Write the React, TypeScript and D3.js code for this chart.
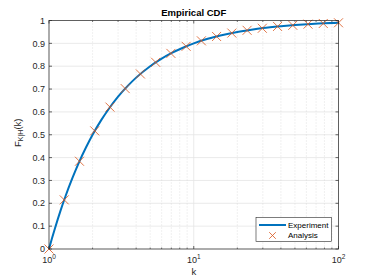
import React from "react";
import * as d3 from "d3";

// Analysis markers (k on log axis, CDF value)
const analysisK = [1, 1.274, 1.624, 2.069, 2.637, 3.36, 4.281, 5.456, 6.952, 8.859, 11.29, 14.38, 18.33, 23.36, 29.76, 37.93, 48.33, 61.58, 78.48, 100];
const analysisF = [0, 0.215, 0.384, 0.517, 0.621, 0.702, 0.766, 0.817, 0.856, 0.887, 0.911, 0.93, 0.945, 0.957, 0.966, 0.974, 0.979, 0.984, 0.987, 0.99];

// Experiment curve
const expK = [1, 1.05, 1.1, 1.2, 1.3, 1.45, 1.6, 1.8, 2, 2.3, 2.6, 3, 3.5, 4, 5, 6, 7, 8.5, 10, 12, 15, 20, 25, 30, 40, 50, 65, 80, 100];
const expF = [0, 0.048, 0.091, 0.167, 0.231, 0.31, 0.375, 0.444, 0.5, 0.565, 0.615, 0.667, 0.714, 0.75, 0.8, 0.833, 0.857, 0.882, 0.9, 0.917, 0.933, 0.95, 0.96, 0.967, 0.975, 0.98, 0.985, 0.988, 0.99];

const yTicks = [0, 0.1, 0.2, 0.3, 0.4, 0.5, 0.6, 0.7, 0.8, 0.9, 1];
const yTickLabels = ["0", "0.1", "0.2", "0.3", "0.4", "0.5", "0.6", "0.7", "0.8", "0.9", "1"];
const xMajor = [1, 10, 100];
const xMajorExp = ["0", "1", "2"];
const xMinor = [2, 3, 4, 5, 6, 7, 8, 9, 20, 30, 40, 50, 60, 70, 80, 90];

const W = 374;
const H = 280;
const m = { left: 49, right: 338.5, top: 20.5, bottom: 249 };
const font = "'Liberation Sans', Arial, Helvetica, sans-serif";
const axisCol = "#262626";
const blue = "#0072BD";
const orange = "#D95319";

const App: React.FC = () => {
  const x = d3.scaleLog().domain([1, 100]).range([m.left, m.right]);
  const y = d3.scaleLinear().domain([0, 1]).range([m.bottom, m.top]);

  const line = d3
    .line<number>()
    .x((_, i) => x(expK[i]))
    .y((d) => y(d))
    .curve(d3.curveMonotoneX);

  const cross = (cx: number, cy: number, i: number, s = 4.5) => (
    <path
      key={i}
      d={`M${cx - s},${cy - s}L${cx + s},${cy + s}M${cx - s},${cy + s}L${cx + s},${cy - s}`}
      stroke={orange}
      strokeWidth={0.8}
      fill="none"
    />
  );

  return (
    <svg
      width={W}
      height={H}
      style={{ position: "absolute", left: 0, top: 0, background: "#fff" }}
      fontFamily={font}
    >
      <rect x={0} y={0} width={W} height={H} fill="#fff" />
      <rect x={m.left} y={m.top} width={m.right - m.left} height={m.bottom - m.top} fill="#fff" />

      {/* grid */}
      {yTicks.map((t) => (
        <line key={"gy" + t} x1={m.left} x2={m.right} y1={y(t)} y2={y(t)} stroke="#e5e5e5" strokeWidth={0.8} />
      ))}
      {xMinor.map((t) => (
        <line key={"gmx" + t} x1={x(t)} x2={x(t)} y1={m.top} y2={m.bottom} stroke="#d0d0d0" strokeWidth={0.6} strokeDasharray="1,2" />
      ))}
      {xMajor.map((t) => (
        <line key={"gx" + t} x1={x(t)} x2={x(t)} y1={m.top} y2={m.bottom} stroke="#e5e5e5" strokeWidth={0.8} />
      ))}

      {/* data */}
      <path d={line(expF) || ""} fill="none" stroke={blue} strokeWidth={2} />
      {analysisF.map((f, i) => cross(x(analysisK[i]), y(f), i))}

      {/* box and ticks */}
      <rect x={m.left} y={m.top} width={m.right - m.left} height={m.bottom - m.top} fill="none" stroke={axisCol} strokeWidth={0.7} />
      {yTicks.map((t) => (
        <g key={"ty" + t}>
          <line x1={m.left} x2={m.left + 3} y1={y(t)} y2={y(t)} stroke={axisCol} strokeWidth={0.7} />
          <line x1={m.right} x2={m.right - 3} y1={y(t)} y2={y(t)} stroke={axisCol} strokeWidth={0.7} />
        </g>
      ))}
      {xMajor.map((t) => (
        <g key={"tx" + t}>
          <line x1={x(t)} x2={x(t)} y1={m.bottom} y2={m.bottom - 3} stroke={axisCol} strokeWidth={0.7} />
          <line x1={x(t)} x2={x(t)} y1={m.top} y2={m.top + 3} stroke={axisCol} strokeWidth={0.7} />
        </g>
      ))}
      {xMinor.map((t) => (
        <g key={"tmx" + t}>
          <line x1={x(t)} x2={x(t)} y1={m.bottom} y2={m.bottom - 1.5} stroke={axisCol} strokeWidth={0.6} />
          <line x1={x(t)} x2={x(t)} y1={m.top} y2={m.top + 1.5} stroke={axisCol} strokeWidth={0.6} />
        </g>
      ))}

      {/* tick labels */}
      {yTicks.map((t, i) => (
        <text key={"ly" + t} x={m.left - 4} y={y(t)} dy="0.35em" textAnchor="end" fontSize={9} fill={axisCol}>
          {yTickLabels[i]}
        </text>
      ))}
      {xMajor.map((t, i) => (
        <text key={"lx" + t} x={x(t)} y={263} textAnchor="middle" fontSize={9} fill={axisCol}>
          10
          <tspan dy={-4} fontSize={6.5}>{xMajorExp[i]}</tspan>
        </text>
      ))}

      {/* labels */}
      <text x={(m.left + m.right) / 2} y={16} textAnchor="middle" fontSize={9.5} fontWeight="bold" fill="#000">
        Empirical CDF
      </text>
      <text x={(m.left + m.right) / 2} y={275} textAnchor="middle" fontSize={9.5} fill={axisCol}>
        k
      </text>
      <text
        transform={`translate(20.5,${(m.top + m.bottom) / 2 - 2}) rotate(-90)`}
        textAnchor="middle"
        fontSize={9.5}
        fill={axisCol}
      >
        F
        <tspan dy={2.5} fontSize={7}>K|H</tspan>
        <tspan dy={-2.5}>(k)</tspan>
      </text>

      {/* legend */}
      <g>
        <rect x={256} y={217.5} width={75.5} height={24} fill="#fff" stroke={axisCol} strokeWidth={0.6} />
        <line x1={259} x2={286} y1={225} y2={225} stroke={blue} strokeWidth={2} />
        <text x={288} y={225} dy="0.35em" fontSize={8} fill="#000">Experiment</text>
        {cross(272.5, 235.5, 999, 3.3)}
        <text x={288} y={235.5} dy="0.35em" fontSize={8} fill="#000">Analysis</text>
      </g>
    </svg>
  );
};

export default App;
